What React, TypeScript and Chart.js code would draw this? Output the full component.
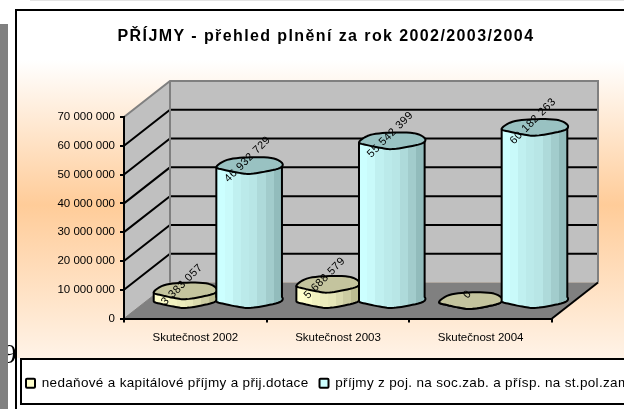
import React, { useEffect, useRef } from "react";
import { Chart, registerables } from "chart.js";

Chart.register(...registerables);

const chartTitle = "PŘÍJMY - přehled plnění za rok 2002/2003/2004";
const categories = ["Skutečnost 2002", "Skutečnost 2003", "Skutečnost 2004"];
const seriesNames = [
  "nedaňové a kapitálové příjmy a přij.dotace",
  "příjmy z poj. na soc.zab. a přísp. na st.pol.zam",
];
const nonTaxIncome = [3383057, 5688579, 0];
const insuranceIncome = [46932729, 55542399, 60182263];

const W = 800;
const H = 409;
const FONT = "'Liberation Sans', Arial, sans-serif";
const DEPTH_X = 46;
const DEPTH_Y = -36;
const BAR_DX = 21;
const BAR_DY = -18;
const TOP_RY = 8.5;

const fmt = (v: number) => String(Math.round(v)).replace(/\B(?=(\d{3})+(?!\d))/g, " ");

const blob: [number, number][] = [
  [-1, 0.18], [-0.67, -0.65], [-0.06, -0.94], [0.67, -0.88], [1, -0.3],
  [0.94, 0.3], [0.45, 0.76], [0, 1], [-0.3, 0.88], [-0.75, 0.53],
];
const SUB = 6;
function sampleBlob(): [number, number][] {
  const n = blob.length;
  const out: [number, number][] = [];
  for (let i = 0; i < n; i++) {
    const p0 = blob[(i - 1 + n) % n], p1 = blob[i], p2 = blob[(i + 1) % n], p3 = blob[(i + 2) % n];
    for (let s = 0; s < SUB; s++) {
      const t = s / SUB, t2 = t * t, t3 = t2 * t;
      const f = (a: number, b: number, c: number, d: number) =>
        0.5 * (2 * b + (c - a) * t + (2 * a - 5 * b + 4 * c - d) * t2 + (3 * b - a - 3 * c + d) * t3);
      out.push([f(p0[0], p1[0], p2[0], p3[0]), f(p0[1], p1[1], p2[1], p3[1])]);
    }
  }
  return out;
}
const curve = sampleBlob();

function bands(ctx: CanvasRenderingContext2D, x0: number, x1: number, colors: string[]) {
  const g = ctx.createLinearGradient(x0, 0, x1, 0);
  colors.forEach((c, i) => {
    g.addColorStop(i / colors.length, c);
    g.addColorStop((i + 1) / colors.length, c);
  });
  return g;
}
const lightBlueBands = ["#ccffff", "#c9fafa", "#c0f0f0", "#bbeaea", "#b8e6e6", "#aedada", "#a2cccc", "#92bcbc"];
const paleYellowBands = ["#ffffcc", "#fbfbc8", "#f1f1c0", "#ebebbc", "#e6e6b8", "#dadaae", "#ccccA2", "#bcbc92"];
const capColors = ["#c4c49e", "#99c2c2"];

function withSpacing(chart: any, obj: any, name: string, spacing: string) {
  const orig = obj[name].bind(obj);
  obj[name] = (...args: any[]) => {
    const ctx = chart.ctx as any;
    ctx.letterSpacing = spacing;
    const r = orig(...args);
    ctx.letterSpacing = "0px";
    return r;
  };
}

const scenePlugin = {
  id: "scene",
  beforeLayout(chart: any) {
    const lg = chart.legend;
    if (lg && !lg.__patched) {
      lg.__patched = true;
      withSpacing(chart, lg, "fit", "0.33px");
      withSpacing(chart, lg, "draw", "0.33px");
    }
  },
  afterLayout(chart: any) {
    const tb = chart.titleBlock;
    tb.left = 15;
    tb.right = 637;
    if (!tb.__patched) {
      tb.__patched = true;
      withSpacing(chart, tb, "draw", "1.4px");
    }
  },
  beforeDraw(chart: any) {
    const ctx: CanvasRenderingContext2D = chart.ctx;
    const { left, right, top, bottom } = chart.chartArea;
    const y = chart.scales.y;
    ctx.save();
    ctx.fillStyle = "#ffffff";
    ctx.fillRect(0, 0, W, H);
    // page remnants
    ctx.fillStyle = "#000";
    ctx.font = "27px 'Liberation Serif', serif";
    ctx.textAlign = "left";
    ctx.textBaseline = "alphabetic";
    ctx.fillText("9", 3, 363);
    ctx.fillStyle = "#808080";
    ctx.fillRect(0, 24, 8, H - 24);
    ctx.fillStyle = "#e4e4e4";
    ctx.fillRect(30, 0, W, 1);
    // frame
    const g = ctx.createLinearGradient(0, 60, 0, 405);
    g.addColorStop(0, "#ffffff");
    g.addColorStop(0.42, "#ffcc99");
    g.addColorStop(1, "#ffffff");
    ctx.fillStyle = "#ffffff";
    ctx.fillRect(17, 11, W, H);
    ctx.fillStyle = g;
    ctx.fillRect(17, 11, W, 347);
    ctx.fillStyle = "#000";
    ctx.fillRect(15, 9, 2, H);
    ctx.fillRect(15, 9, W, 2);
    // legend box
    ctx.fillStyle = "#ffffff";
    ctx.fillRect(20, 358, W, 47);
    ctx.strokeStyle = "#000";
    ctx.lineWidth = 2;
    ctx.strokeRect(21, 359, W, 45);
    // walls
    const bx0 = left + DEPTH_X, bx1 = right + DEPTH_X;
    ctx.fillStyle = "#c0c0c0";
    ctx.fillRect(bx0, top + DEPTH_Y, right - left, bottom - top);
    ctx.beginPath();
    ctx.moveTo(left, top);
    ctx.lineTo(bx0, top + DEPTH_Y);
    ctx.lineTo(bx0, bottom + DEPTH_Y);
    ctx.lineTo(left, bottom);
    ctx.closePath();
    ctx.fill();
    ctx.fillStyle = "#808080";
    ctx.beginPath();
    ctx.moveTo(left, bottom);
    ctx.lineTo(bx0, bottom + DEPTH_Y);
    ctx.lineTo(bx1, bottom + DEPTH_Y);
    ctx.lineTo(right, bottom);
    ctx.closePath();
    ctx.fill();
    // grid
    ctx.strokeStyle = "#000";
    ctx.lineWidth = 2;
    y.ticks.forEach((t: any) => {
      if (t.value === 0 || t.value === y.max) return;
      const p = y.getPixelForValue(t.value);
      ctx.beginPath();
      ctx.moveTo(left, p);
      ctx.lineTo(bx0, p + DEPTH_Y);
      ctx.lineTo(bx1, p + DEPTH_Y);
      ctx.stroke();
    });
    // wall edges
    ctx.strokeStyle = "#808080";
    ctx.lineWidth = 2;
    ctx.beginPath();
    ctx.moveTo(left, top);
    ctx.lineTo(bx0, top + DEPTH_Y);
    ctx.lineTo(bx1, top + DEPTH_Y);
    ctx.lineTo(bx1, bottom + DEPTH_Y);
    ctx.moveTo(bx0, top + DEPTH_Y);
    ctx.lineTo(bx0, bottom + DEPTH_Y);
    ctx.stroke();
    ctx.lineWidth = 1;
    ctx.beginPath();
    ctx.moveTo(left, bottom);
    ctx.lineTo(bx0, bottom + DEPTH_Y);
    ctx.stroke();
    ctx.strokeStyle = "#000";
    ctx.lineWidth = 2;
    ctx.beginPath();
    ctx.moveTo(right, bottom);
    ctx.lineTo(bx1, bottom + DEPTH_Y);
    ctx.stroke();
    ctx.restore();
  },
  beforeDatasetsDraw(chart: any) {
    const ctx: CanvasRenderingContext2D = chart.ctx;
    ctx.save();
    ctx.lineJoin = "round";
    ctx.strokeStyle = "#000";
    ctx.lineWidth = 2;
    const metas = [chart.getDatasetMeta(0), chart.getDatasetMeta(1)];
    categories.forEach((_, c) => {
      metas.forEach((meta, ds) => {
        const el = meta.data[c];
        const inset = ds === 0 ? 1.5 : 0;
        const cx = el.x + BAR_DX + inset;
        const hw = el.width / 2 - inset;
        const topY = el.y + BAR_DY;
        const baseY = el.base + BAR_DY;
        const at = (i: number, yc: number): [number, number] => {
          const p = curve[((i % curve.length) + curve.length) % curve.length];
          return [cx + p[0] * hw, yc + p[1] * TOP_RY];
        };
        const rightIdx = 4 * SUB;
        const N = curve.length;
        ctx.beginPath();
        ctx.moveTo(...at(0, topY));
        for (let i = N; i >= rightIdx; i--) ctx.lineTo(...at(i, baseY));
        ctx.lineTo(...at(rightIdx, topY));
        ctx.closePath();
        ctx.fillStyle = bands(ctx, cx - hw, cx + hw, ds === 0 ? paleYellowBands : lightBlueBands);
        ctx.fill();
        ctx.beginPath();
        ctx.moveTo(...at(0, topY));
        for (let i = N; i >= rightIdx; i--) ctx.lineTo(...at(i, baseY));
        ctx.lineTo(...at(rightIdx, topY));
        ctx.stroke();
        ctx.beginPath();
        for (let i = 0; i < N; i++) {
          const p = at(i, topY);
          if (i === 0) ctx.moveTo(...p);
          else ctx.lineTo(...p);
        }
        ctx.closePath();
        ctx.fillStyle = capColors[ds];
        ctx.fill();
        ctx.stroke();
      });
    });
    ctx.restore();
    return false;
  },
  afterDraw(chart: any) {
    const ctx: CanvasRenderingContext2D = chart.ctx;
    ctx.save();
    ctx.fillStyle = "#000";
    ctx.font = `11px ${FONT}`;
    ctx.textAlign = "center";
    ctx.textBaseline = "middle";
    (ctx as any).letterSpacing = "0.5px";
    chart.data.datasets.forEach((ds: any, d: number) => {
      chart.getDatasetMeta(d).data.forEach((el: any, i: number) => {
        ctx.save();
        ctx.translate(el.x + BAR_DX - 1.5, el.y + BAR_DY - 6);
        ctx.rotate(-Math.PI / 4);
        ctx.fillText(fmt(ds.data[i]), 0, 0);
        ctx.restore();
      });
    });
    ctx.restore();
  },
};

export default function App() {
  const ref = useRef<HTMLCanvasElement>(null);
  useEffect(() => {
    const chart = new Chart(ref.current!, {
      type: "bar",
      plugins: [scenePlugin],
      data: {
        labels: categories,
        datasets: [
          { label: seriesNames[0], data: nonTaxIncome, backgroundColor: "#ffffcc", borderColor: "#000", borderWidth: 2 },
          { label: seriesNames[1], data: insuranceIncome, backgroundColor: "#ccffff", borderColor: "#000", borderWidth: 2 },
        ],
      },
      options: {
        responsive: false,
        animation: false,
        events: [],
        layout: { padding: { left: 15, right: 0, top: 0, bottom: 9 } },
        datasets: { bar: { barPercentage: 1, categoryPercentage: 0.92 } },
        plugins: {
          tooltip: { enabled: false },
          title: {
            display: true,
            text: chartTitle,
            color: "#000",
            font: { family: FONT, size: 16, weight: "bold" },
            padding: { top: 27, bottom: 70.8 },
          },
          legend: {
            position: "bottom",
            align: "start",
            labels: {
              color: "#000",
              font: { family: FONT, size: 13.5 },
              boxWidth: 9,
              boxHeight: 9,
              padding: 11,
              generateLabels: (c: any) =>
                c.data.datasets.map((d: any, i: number) => ({
                  text: d.label,
                  fillStyle: d.backgroundColor,
                  strokeStyle: "#000",
                  lineWidth: 2,
                  datasetIndex: i,
                  borderRadius: 1,
                })),
              useBorderRadius: true,
              borderRadius: 1,
            },
          },
        },
        scales: {
          x: {
            grid: { drawOnChartArea: false, color: "#000", lineWidth: 2, tickLength: 4, drawTicks: true },
            border: { color: "#000", width: 2 },
            ticks: { color: "#000", font: { family: FONT, size: 11.5 }, padding: 8.5, maxRotation: 0 },
            afterFit: (s: any) => { s.height = 47; },
          },
          y: {
            min: 0,
            max: 70000000,
            grid: { drawOnChartArea: false, color: "#000", lineWidth: 2, tickLength: 4 },
            border: { color: "#000", width: 2 },
            ticks: { color: "#000", font: { family: FONT, size: 11.5 }, stepSize: 10000000, padding: 5, callback: (v: any) => fmt(v) },
            afterFit: (s: any) => { s.width = 109; },
          },
          spacer: {
            position: "right",
            display: true,
            grid: { display: false },
            border: { display: false },
            ticks: { display: false },
            afterFit: (s: any) => { s.width = W - 552; },
          },
        },
      } as any,
    });
    return () => chart.destroy();
  }, []);
  return (
    <div style={{ position: "fixed", left: 0, top: 0, width: 624, height: 409, overflow: "hidden", background: "#fff" }}>
      <canvas ref={ref} width={W} height={H} style={{ display: "block", width: W, height: H }} />
    </div>
  );
}
